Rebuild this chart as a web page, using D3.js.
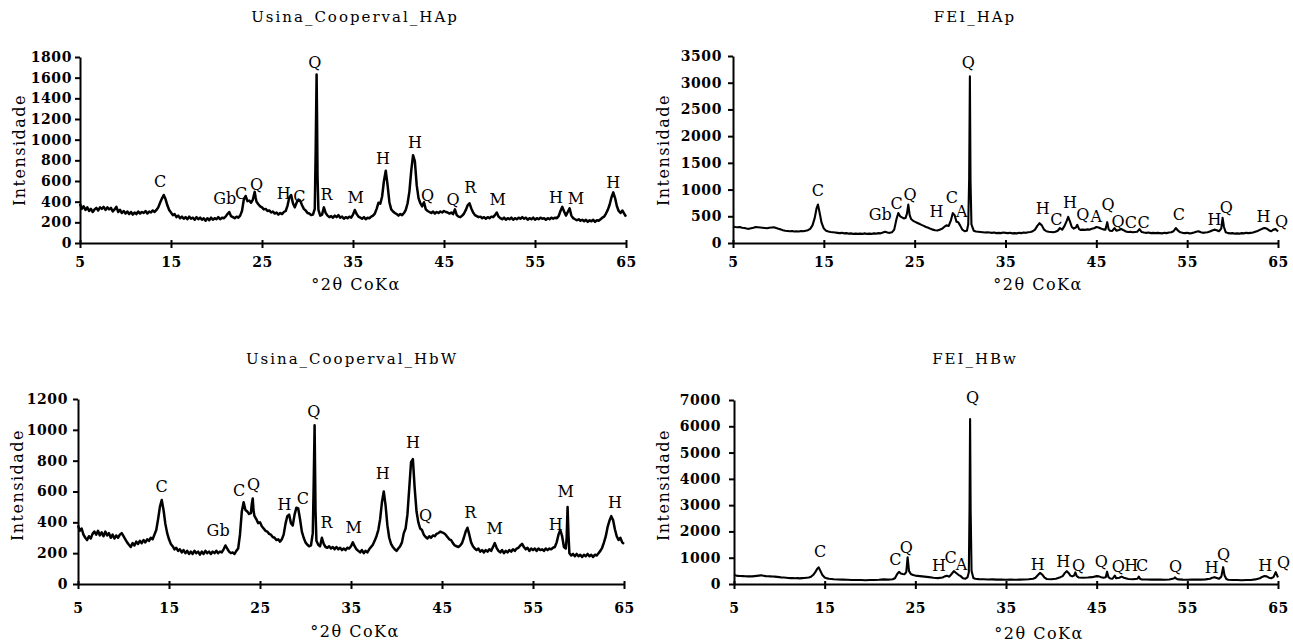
<!DOCTYPE html>
<html>
<head>
<meta charset="utf-8">
<script src="https://cdn.jsdelivr.net/npm/d3@7"></script>
<style>
  body { margin: 0; background: #fff; }
  text { font-family: "DejaVu Serif", serif; fill: #000; }
  .tick text { font-weight: bold; font-size: 14px; letter-spacing: 0.6px; }
  .title { font-size: 15px; letter-spacing: 2px; }
  .ylab, .xlab { font-size: 16px; letter-spacing: 1.5px; }
  .peak { font-size: 16px; }
  .curve { fill: none; stroke: #000; stroke-linejoin: round; }
  .domain, .tick line { stroke: #000; stroke-width: 2; }
</style>
</head>
<body>
<svg id="chart" width="1293" height="643"></svg>
<script>
// diffractograms, [2theta, counts]
var hapCooperval = [[5.0,380],[5.2,330],[5.4,355],[5.6,320],[5.8,345],[6.0,310],[6.2,330],[6.4,300],[6.6,325],[6.8,340],[7.0,315],[7.2,345],[7.4,330],[7.6,350],[7.8,320],[8.0,345],[8.2,325],[8.4,340],[8.6,305],[8.8,325],[9.0,350],[9.2,300],[9.4,320],[9.6,290],[9.8,310],[10.0,285],[10.2,305],[10.4,280],[10.6,300],[10.8,275],[11.0,295],[11.2,280],[11.4,305],[11.6,285],[11.8,300],[12.0,290],[12.2,310],[12.4,285],[12.6,305],[12.8,295],[13.0,315],[13.2,300],[13.4,320],[13.6,345],[13.8,390],[14.0,430],[14.2,465],[14.4,425],[14.6,365],[14.8,320],[15.0,295],[15.2,270],[15.4,280],[15.6,250],[15.8,265],[16.0,240],[16.2,255],[16.4,235],[16.6,250],[16.8,230],[17.0,255],[17.2,235],[17.4,245],[17.6,225],[17.8,250],[18.0,230],[18.2,245],[18.4,225],[18.6,240],[18.8,215],[19.0,240],[19.2,220],[19.4,245],[19.6,225],[19.8,240],[20.0,230],[20.2,250],[20.4,230],[20.6,245],[20.8,240],[21.0,255],[21.2,280],[21.4,300],[21.6,260],[21.8,250],[22.0,240],[22.2,255],[22.4,245],[22.6,265],[22.8,310],[23.0,420],[23.2,455],[23.4,405],[23.6,410],[23.8,390],[24.0,420],[24.1,460],[24.2,495],[24.3,440],[24.4,400],[24.6,375],[24.8,355],[25.0,345],[25.2,325],[25.4,330],[25.6,310],[25.8,315],[26.0,295],[26.2,305],[26.4,285],[26.6,295],[26.8,275],[27.0,290],[27.2,280],[27.4,300],[27.6,310],[27.8,360],[28.0,440],[28.2,465],[28.4,385],[28.6,345],[28.8,390],[29.0,420],[29.2,410],[29.4,365],[29.6,330],[29.8,315],[30.0,290],[30.2,285],[30.4,270],[30.6,275],[30.8,330],[30.9,900],[31.0,1630],[31.05,1200],[31.1,650],[31.2,320],[31.4,265],[31.6,275],[31.8,345],[32.0,290],[32.2,265],[32.4,250],[32.6,260],[32.8,245],[33.0,265],[33.2,250],[33.4,270],[33.6,245],[33.8,255],[34.0,235],[34.2,250],[34.4,240],[34.6,255],[34.8,245],[35.0,275],[35.2,320],[35.4,280],[35.6,255],[35.8,245],[36.0,235],[36.2,250],[36.4,230],[36.6,245],[36.8,240],[37.0,255],[37.2,265],[37.4,285],[37.6,330],[37.8,390],[38.0,380],[38.2,450],[38.4,600],[38.6,700],[38.8,560],[39.0,395],[39.2,325],[39.4,305],[39.6,290],[39.8,280],[40.0,265],[40.2,280],[40.4,270],[40.6,290],[40.8,320],[41.0,385],[41.2,500],[41.4,700],[41.6,850],[41.8,790],[42.0,560],[42.2,435],[42.4,385],[42.6,355],[42.8,395],[43.0,325],[43.2,310],[43.4,300],[43.6,290],[43.8,305],[44.0,285],[44.2,300],[44.4,290],[44.6,305],[44.8,295],[45.0,310],[45.2,300],[45.4,295],[45.6,285],[45.8,295],[46.0,280],[46.2,325],[46.4,270],[46.6,255],[46.8,250],[47.0,265],[47.2,285],[47.4,320],[47.6,365],[47.8,385],[48.0,335],[48.2,295],[48.4,270],[48.6,260],[48.8,250],[49.0,255],[49.2,240],[49.4,250],[49.6,235],[49.8,250],[50.0,240],[50.2,255],[50.4,250],[50.6,270],[50.8,295],[51.0,255],[51.2,240],[51.4,230],[51.6,245],[51.8,225],[52.0,240],[52.2,230],[52.4,245],[52.6,225],[52.8,240],[53.0,230],[53.2,245],[53.4,235],[53.6,250],[53.8,235],[54.0,245],[54.2,225],[54.4,240],[54.6,230],[54.8,245],[55.0,225],[55.2,240],[55.4,230],[55.6,245],[55.8,235],[56.0,240],[56.2,225],[56.4,240],[56.6,230],[56.8,245],[57.0,235],[57.2,245],[57.4,240],[57.6,260],[57.8,310],[58.0,350],[58.2,305],[58.4,265],[58.6,300],[58.8,335],[59.0,265],[59.2,240],[59.4,230],[59.6,220],[59.8,230],[60.0,215],[60.2,225],[60.4,210],[60.6,225],[60.8,205],[61.0,220],[61.2,210],[61.4,225],[61.6,205],[61.8,220],[62.0,215],[62.2,230],[62.4,245],[62.6,255],[62.8,285],[63.0,320],[63.2,370],[63.4,440],[63.6,490],[63.8,435],[64.0,355],[64.2,310],[64.4,290],[64.6,315],[64.8,285],[65.0,255]];

var hapFei = [[5.0,310],[5.25,300],[5.5,295],[5.75,300],[6.0,285],[6.25,280],[6.5,270],[6.75,265],[7.0,275],[7.25,285],[7.5,300],[7.75,295],[8.0,290],[8.25,285],[8.5,280],[8.75,275],[9.0,285],[9.25,290],[9.5,295],[9.75,280],[10.0,265],[10.25,255],[10.5,240],[10.75,230],[11.0,225],[11.25,220],[11.5,225],[11.75,215],[12.0,220],[12.25,215],[12.5,225],[12.75,220],[13.0,230],[13.25,240],[13.5,265],[13.75,330],[14.0,470],[14.2,650],[14.35,720],[14.5,600],[14.75,380],[15.0,270],[15.25,230],[15.5,215],[15.75,205],[16.0,200],[16.25,195],[16.5,190],[16.75,185],[17.0,190],[17.25,180],[17.5,185],[17.75,175],[18.0,180],[18.25,170],[18.5,175],[18.75,170],[19.0,175],[19.25,170],[19.5,180],[19.75,170],[20.0,175],[20.25,170],[20.5,180],[20.75,175],[21.0,185],[21.25,180],[21.5,195],[21.75,210],[22.0,195],[22.25,190],[22.5,200],[22.75,250],[23.0,450],[23.2,560],[23.4,500],[23.6,480],[23.8,460],[24.0,470],[24.15,550],[24.3,720],[24.45,520],[24.6,450],[24.8,420],[25.0,400],[25.25,380],[25.5,360],[25.75,340],[26.0,320],[26.25,300],[26.5,285],[26.75,265],[27.0,250],[27.25,240],[27.5,235],[27.75,250],[28.0,265],[28.25,300],[28.5,330],[28.75,320],[29.0,430],[29.2,560],[29.4,520],[29.6,400],[29.8,390],[30.0,330],[30.25,250],[30.5,220],[30.75,230],[30.9,350],[31.0,1200],[31.08,3120],[31.15,1150],[31.25,350],[31.5,230],[31.75,215],[32.0,210],[32.25,205],[32.5,200],[32.75,195],[33.0,200],[33.25,195],[33.5,190],[33.75,195],[34.0,185],[34.25,190],[34.5,185],[34.75,195],[35.0,190],[35.25,185],[35.5,190],[35.75,180],[36.0,185],[36.25,180],[36.5,190],[36.75,185],[37.0,195],[37.25,190],[37.5,200],[37.75,205],[38.0,220],[38.25,250],[38.5,320],[38.75,370],[39.0,330],[39.25,250],[39.5,220],[39.75,210],[40.0,205],[40.25,200],[40.5,210],[40.75,230],[41.0,280],[41.25,250],[41.5,320],[41.75,420],[41.9,490],[42.1,400],[42.3,300],[42.5,270],[42.75,290],[42.9,340],[43.1,260],[43.25,245],[43.5,250],[43.75,245],[44.0,255],[44.25,250],[44.5,265],[44.75,275],[45.0,300],[45.25,290],[45.5,270],[45.75,255],[46.0,250],[46.2,390],[46.35,260],[46.5,230],[46.75,225],[47.0,280],[47.2,230],[47.5,245],[47.75,260],[48.0,240],[48.25,215],[48.5,205],[48.75,210],[49.0,200],[49.25,205],[49.5,210],[49.75,260],[50.0,205],[50.25,195],[50.5,190],[50.75,195],[51.0,185],[51.25,190],[51.5,185],[51.75,190],[52.0,185],[52.25,180],[52.5,190],[52.75,185],[53.0,195],[53.25,200],[53.5,220],[53.75,280],[54.0,230],[54.25,200],[54.5,190],[54.75,185],[55.0,190],[55.25,180],[55.5,185],[55.75,195],[56.0,210],[56.25,220],[56.5,200],[56.75,190],[57.0,195],[57.25,200],[57.5,215],[57.75,235],[58.0,250],[58.25,240],[58.5,220],[58.75,270],[58.9,470],[59.05,300],[59.25,200],[59.5,185],[59.75,180],[60.0,185],[60.25,175],[60.5,180],[60.75,175],[61.0,185],[61.25,180],[61.5,190],[61.75,185],[62.0,190],[62.25,195],[62.5,210],[62.75,225],[63.0,245],[63.25,265],[63.5,280],[63.75,270],[64.0,240],[64.25,220],[64.5,250],[64.75,260],[65.0,215]];

var hbwCooperval = [[5.0,380],[5.2,345],[5.4,360],[5.6,320],[5.8,300],[6.0,285],[6.2,310],[6.4,295],[6.6,325],[6.8,340],[7.0,320],[7.2,345],[7.4,315],[7.6,335],[7.8,310],[8.0,340],[8.2,315],[8.4,330],[8.6,300],[8.8,320],[9.0,295],[9.2,315],[9.4,300],[9.6,320],[9.8,330],[10.0,310],[10.2,290],[10.4,270],[10.6,255],[10.8,240],[11.0,265],[11.2,250],[11.4,275],[11.6,260],[11.8,280],[12.0,265],[12.2,285],[12.4,270],[12.6,290],[12.8,280],[13.0,300],[13.2,290],[13.4,320],[13.6,350],[13.8,420],[14.0,500],[14.2,545],[14.4,480],[14.6,390],[14.8,330],[15.0,290],[15.2,260],[15.4,245],[15.6,225],[15.8,235],[16.0,215],[16.2,225],[16.4,205],[16.6,220],[16.8,200],[17.0,215],[17.2,195],[17.4,210],[17.6,195],[17.8,215],[18.0,200],[18.2,210],[18.4,190],[18.6,210],[18.8,195],[19.0,215],[19.2,200],[19.4,210],[19.6,195],[19.8,210],[20.0,200],[20.2,215],[20.4,200],[20.6,210],[20.8,205],[21.0,225],[21.2,250],[21.4,230],[21.6,210],[21.8,200],[22.0,205],[22.2,195],[22.4,215],[22.6,230],[22.8,320],[23.0,470],[23.2,530],[23.4,480],[23.6,470],[23.8,455],[24.0,460],[24.1,520],[24.2,555],[24.3,470],[24.4,440],[24.6,420],[24.8,395],[25.0,400],[25.2,375],[25.4,360],[25.6,345],[25.8,340],[26.0,325],[26.2,320],[26.4,305],[26.6,300],[26.8,285],[27.0,290],[27.2,275],[27.4,290],[27.6,320],[27.8,390],[28.0,440],[28.2,450],[28.4,395],[28.6,380],[28.8,450],[29.0,495],[29.2,490],[29.4,420],[29.6,340],[29.8,300],[30.0,270],[30.2,255],[30.4,245],[30.6,250],[30.8,330],[30.9,650],[31.0,1030],[31.05,750],[31.1,480],[31.2,280],[31.4,255],[31.6,245],[31.8,300],[32.0,260],[32.2,240],[32.4,235],[32.6,245],[32.8,230],[33.0,240],[33.2,225],[33.4,240],[33.6,225],[33.8,235],[34.0,220],[34.2,230],[34.4,220],[34.6,235],[34.8,230],[35.0,245],[35.2,270],[35.4,245],[35.6,225],[35.8,215],[36.0,205],[36.2,220],[36.4,200],[36.6,215],[36.8,205],[37.0,225],[37.2,240],[37.4,255],[37.6,280],[37.8,310],[38.0,350],[38.2,420],[38.4,530],[38.6,600],[38.8,510],[39.0,380],[39.2,300],[39.4,260],[39.6,240],[39.8,225],[40.0,215],[40.2,230],[40.4,245],[40.6,270],[40.8,330],[41.0,360],[41.2,450],[41.4,620],[41.6,790],[41.8,810],[42.0,620],[42.2,470],[42.4,400],[42.6,360],[42.8,350],[43.0,320],[43.2,305],[43.4,295],[43.6,310],[43.8,300],[44.0,315],[44.2,310],[44.4,325],[44.6,330],[44.8,340],[45.0,335],[45.2,330],[45.4,320],[45.6,305],[45.8,290],[46.0,285],[46.2,265],[46.4,250],[46.6,245],[46.8,240],[47.0,250],[47.2,265],[47.4,300],[47.6,340],[47.8,365],[48.0,320],[48.2,270],[48.4,245],[48.6,230],[48.8,220],[49.0,230],[49.2,210],[49.4,220],[49.6,205],[49.8,220],[50.0,210],[50.2,225],[50.4,215],[50.6,240],[50.8,265],[51.0,235],[51.2,215],[51.4,205],[51.6,220],[51.8,200],[52.0,215],[52.2,205],[52.4,220],[52.6,210],[52.8,225],[53.0,215],[53.2,230],[53.4,235],[53.6,250],[53.8,260],[54.0,240],[54.2,225],[54.4,235],[54.6,215],[54.8,230],[55.0,220],[55.2,230],[55.4,215],[55.6,230],[55.8,220],[56.0,225],[56.2,215],[56.4,230],[56.6,220],[56.8,230],[57.0,225],[57.2,235],[57.4,240],[57.6,270],[57.8,320],[58.0,350],[58.2,310],[58.4,240],[58.6,230],[58.7,300],[58.8,500],[58.9,320],[59.0,200],[59.2,185],[59.4,195],[59.6,180],[59.8,195],[60.0,180],[60.2,190],[60.4,175],[60.6,190],[60.8,180],[61.0,195],[61.2,180],[61.4,190],[61.6,175],[61.8,190],[62.0,185],[62.2,200],[62.4,215],[62.6,235],[62.8,270],[63.0,310],[63.2,370],[63.4,410],[63.6,440],[63.8,415],[64.0,355],[64.2,310],[64.4,285],[64.6,300],[64.8,270],[65.0,260]];

var hbwFei = [[5.0,340],[5.25,320],[5.5,310],[5.75,305],[6.0,300],[6.25,295],[6.5,290],[6.75,295],[7.0,290],[7.25,300],[7.5,310],[7.75,320],[8.0,330],[8.25,315],[8.5,300],[8.75,295],[9.0,290],[9.25,285],[9.5,280],[9.75,270],[10.0,260],[10.25,250],[10.5,245],[10.75,240],[11.0,230],[11.25,225],[11.5,230],[11.75,220],[12.0,225],[12.25,215],[12.5,225],[12.75,230],[13.0,240],[13.25,250],[13.5,280],[13.75,350],[14.0,470],[14.2,590],[14.35,630],[14.5,520],[14.75,340],[15.0,250],[15.25,215],[15.5,200],[15.75,190],[16.0,180],[16.5,170],[17.0,165],[17.5,160],[18.0,155],[18.5,150],[19.0,150],[19.5,145],[20.0,155],[20.5,150],[21.0,160],[21.5,175],[22.0,165],[22.5,180],[22.75,220],[23.0,380],[23.2,460],[23.4,400],[23.6,380],[23.8,370],[24.0,450],[24.15,1020],[24.3,500],[24.5,380],[24.75,340],[25.0,320],[25.5,300],[26.0,280],[26.5,260],[27.0,240],[27.5,225],[28.0,250],[28.25,290],[28.5,310],[28.75,280],[29.0,380],[29.25,490],[29.5,420],[29.75,350],[30.0,300],[30.25,220],[30.5,200],[30.75,250],[30.9,450],[30.98,2900],[31.04,6280],[31.1,2800],[31.2,500],[31.4,230],[31.6,200],[32.0,185],[32.5,180],[33.0,170],[33.5,175],[34.0,165],[34.5,170],[35.0,160],[35.5,165],[36.0,160],[36.5,165],[37.0,170],[37.5,180],[38.0,200],[38.25,240],[38.5,330],[38.75,420],[39.0,360],[39.25,240],[39.5,190],[40.0,180],[40.5,200],[40.75,230],[41.0,260],[41.25,300],[41.5,420],[41.7,490],[41.9,420],[42.1,320],[42.3,290],[42.5,320],[42.65,440],[42.8,300],[43.0,250],[43.5,240],[44.0,245],[44.5,260],[45.0,300],[45.25,290],[45.5,260],[45.75,240],[46.0,260],[46.15,470],[46.3,260],[46.5,210],[46.75,200],[47.0,320],[47.15,220],[47.5,240],[47.75,280],[48.0,240],[48.5,190],[49.0,180],[49.5,200],[49.65,280],[49.8,190],[50.0,175],[50.5,170],[51.0,165],[51.5,170],[52.0,165],[52.5,160],[53.0,170],[53.5,210],[53.65,250],[53.8,200],[54.0,175],[54.5,165],[55.0,160],[55.5,165],[56.0,170],[56.5,165],[57.0,175],[57.5,200],[57.75,240],[58.0,260],[58.25,230],[58.5,200],[58.75,280],[58.95,640],[59.1,330],[59.3,190],[59.5,160],[60.0,150],[60.5,155],[61.0,145],[61.5,150],[62.0,155],[62.5,175],[63.0,220],[63.25,270],[63.5,300],[63.75,290],[64.0,240],[64.25,220],[64.5,260],[64.75,450],[64.9,330],[65.0,250]];

// phase labels: [2theta, counts at text baseline, mineral]
var hapCoopervalPeaks = [[13.8,542,"C"],[20.9,377,"Gb"],[22.7,425,"C"],[24.4,510,"Q"],[27.4,425,"H"],[29.1,397,"C"],[30.8,1690,"Q"],[32.1,416,"R"],[35.3,387,"M"],[38.3,765,"H"],[41.8,920,"H"],[43.2,406,"Q"],[46.0,368,"Q"],[47.9,484,"R"],[50.9,368,"M"],[57.3,387,"H"],[59.5,377,"M"],[63.6,532,"H"]];
var hapFeiPeaks = [[14.35,880,"C"],[21.2,430,"Gb"],[23.0,636,"C"],[24.5,805,"Q"],[27.4,487,"H"],[29.1,749,"C"],[30.2,487,"A"],[30.9,3276,"Q"],[39.1,543,"H"],[40.6,337,"C"],[42.1,655,"H"],[43.5,430,"Q"],[45.0,393,"A"],[46.3,618,"Q"],[47.4,300,"Q"],[48.8,280,"C"],[50.2,280,"C"],[54.1,430,"C"],[58.0,337,"H"],[59.3,560,"Q"],[63.4,393,"H"],[65.4,300,"Q"]];
var hbwCoopervalPeaks = [[14.2,597,"C"],[20.4,311,"Gb"],[22.7,571,"C"],[24.3,610,"Q"],[27.7,480,"H"],[29.7,519,"C"],[30.9,1083,"Q"],[32.3,363,"R"],[35.3,331,"M"],[38.5,681,"H"],[41.8,882,"H"],[43.2,409,"Q"],[48.1,428,"R"],[50.8,324,"M"],[57.5,350,"H"],[58.6,564,"M"],[64.0,493,"H"]];
var hbwFeiPeaks = [[14.5,1030,"C"],[22.8,720,"C"],[24.0,1180,"Q"],[27.6,500,"H"],[28.9,800,"C"],[30.1,530,"A"],[31.3,6880,"Q"],[38.5,530,"H"],[41.3,650,"H"],[43.0,500,"Q"],[45.5,650,"Q"],[47.4,460,"Q"],[48.8,500,"H"],[50.0,500,"C"],[53.7,460,"Q"],[57.7,420,"H"],[59.0,910,"Q"],[63.6,500,"H"],[65.6,610,"Q"]];

// tick values
var thetaTicks = [5, 15, 25, 35, 45, 55, 65];
var yTicksHapCooperval = [0, 200, 400, 600, 800, 1000, 1200, 1400, 1600, 1800];
var yTicksHapFei = [0, 500, 1000, 1500, 2000, 2500, 3000, 3500];
var yTicksHbwCooperval = [0, 200, 400, 600, 800, 1000, 1200];
var yTicksHbwFei = [0, 1000, 2000, 3000, 4000, 5000, 6000, 7000];

var yLabel = "Intensidade";
var xLabel = "°2θ CoKα";

// layout of each panel (pixels)
var panels = [
  {title: "Usina_Cooperval_HAp", data: hapCooperval, peaks: hapCoopervalPeaks, yTicks: yTicksHapCooperval, width: 2.5,
   left: 80, right: 626, bottom: 243, top: 57, titleX: 355, titleY: 22, ylabX: 20, ylabY: 150, xlabX: 356, xlabY: 290, xPad: 9, yPad: 3},
  {title: "FEI_HAp", data: hapFei, peaks: hapFeiPeaks, yTicks: yTicksHapFei, width: 2.1,
   left: 733, right: 1278, bottom: 243, top: 56, titleX: 975, titleY: 22, ylabX: 664, ylabY: 150, xlabX: 1038, xlabY: 290, xPad: 9, yPad: 6},
  {title: "Usina_Cooperval_HbW", data: hbwCooperval, peaks: hbwCoopervalPeaks, yTicks: yTicksHbwCooperval, width: 2.5,
   left: 78, right: 624, bottom: 584, top: 399, titleX: 352, titleY: 364, ylabX: 18, ylabY: 485, xlabX: 355, xlabY: 637, xPad: 14, yPad: 5},
  {title: "FEI_HBw", data: hbwFei, peaks: hbwFeiPeaks, yTicks: yTicksHbwFei, width: 2.1,
   left: 734, right: 1278, bottom: 584, top: 400, titleX: 975, titleY: 364, ylabX: 664, ylabY: 485, xlabX: 1039, xlabY: 639, xPad: 14, yPad: 8}
];

var svg = d3.select("#chart");
var fmt = d3.format("d");

panels.forEach(function(p) {
  var g = svg.append("g");

  var x = d3.scaleLinear()
      .domain([thetaTicks[0], thetaTicks[thetaTicks.length - 1]])
      .range([p.left, p.right]);

  var y = d3.scaleLinear()
      .domain([0, p.yTicks[p.yTicks.length - 1]])
      .range([p.bottom, p.top]);

  // x axis, ticks cross the line
  var xAxis = g.append("g")
      .attr("transform", "translate(0," + p.bottom + ")")
      .call(d3.axisBottom(x).tickValues(thetaTicks).tickFormat(fmt).tickSize(5).tickSizeOuter(0).tickPadding(p.xPad));
  xAxis.selectAll(".tick line").attr("y1", -3);

  // y axis
  g.append("g")
      .attr("transform", "translate(" + p.left + ",0)")
      .call(d3.axisLeft(y).tickValues(p.yTicks).tickFormat(fmt).tickSize(5).tickSizeOuter(0).tickPadding(p.yPad));

  // pattern
  var line = d3.line()
      .x(function(d) { return x(d[0]); })
      .y(function(d) { return y(d[1]); });

  g.append("path")
      .datum(p.data)
      .attr("class", "curve")
      .attr("stroke-width", p.width)
      .attr("d", line);

  // mineral labels
  g.selectAll(".peak")
      .data(p.peaks)
    .enter().append("text")
      .attr("class", "peak")
      .attr("text-anchor", "middle")
      .attr("x", function(d) { return x(d[0]); })
      .attr("y", function(d) { return y(d[1]); })
      .text(function(d) { return d[2]; });

  // titles
  g.append("text")
      .attr("class", "title")
      .attr("text-anchor", "middle")
      .attr("x", p.titleX)
      .attr("y", p.titleY)
      .text(p.title);

  g.append("text")
      .attr("class", "ylab")
      .attr("text-anchor", "middle")
      .attr("transform", "translate(" + (p.ylabX + 5) + "," + p.ylabY + ") rotate(-90)")
      .text(yLabel);

  g.append("text")
      .attr("class", "xlab")
      .attr("text-anchor", "middle")
      .attr("x", p.xlabX)
      .attr("y", p.xlabY)
      .text(xLabel);
});
</script>
</body>
</html>
